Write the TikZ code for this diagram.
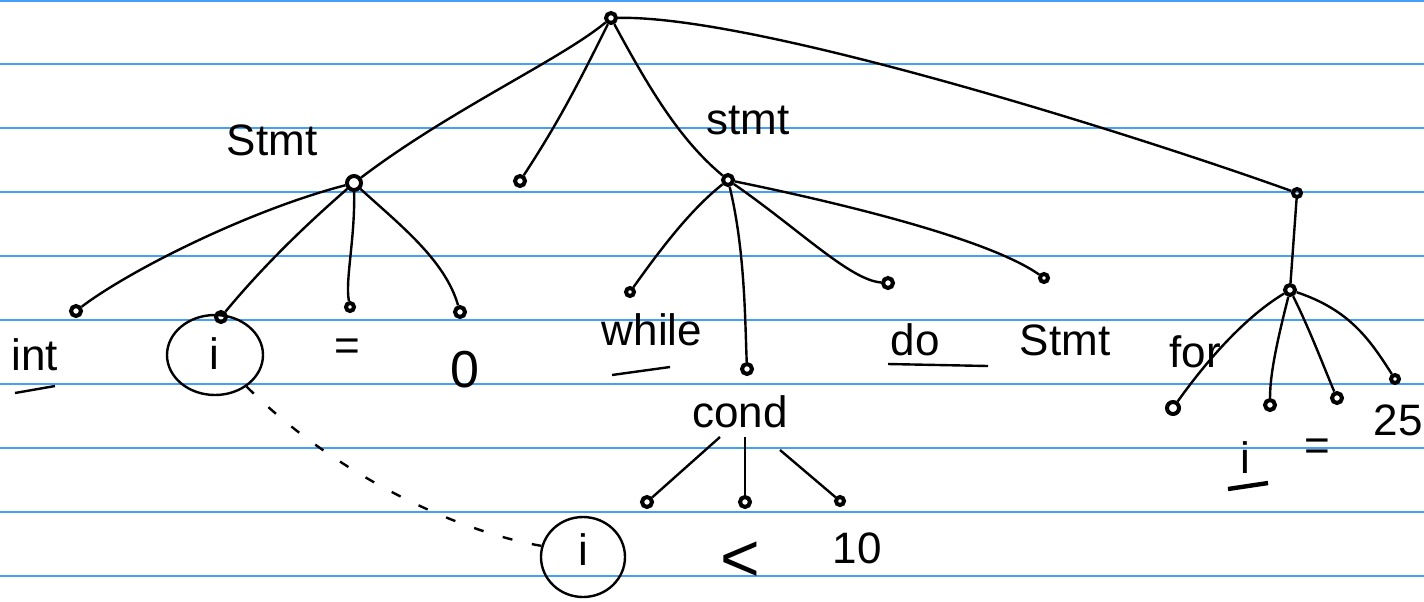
\documentclass[tikz,border=0pt]{standalone}
\usepackage{fontspec}
\setmainfont{Liberation Sans}
\usetikzlibrary{shapes.geometric}
\begin{document}
\begin{tikzpicture}[x=0.5pt,y=-0.5pt,
  dot/.style={circle,draw,line width=2pt,inner sep=0pt,minimum size=5pt},
  lbl/.style={inner sep=1pt,font=\fontsize{22}{26}\selectfont},
  edge/.style={line width=1.2pt},
  ring/.style={draw,line width=1.2pt,ellipse,inner sep=0pt},
  rule/.style={draw={rgb,255:red,70;green,160;blue,250},line width=0.7pt}]
\useasboundingbox (0,0) rectangle (1424,601);
\fill[white] (0,0) rectangle (1424,601);
\foreach \yy in {1,64,128,192,256,320,384,448,512,576}
  \draw[rule] (0,\yy) -- (1424,\yy);
% nodes
\node[dot] (root) at (611,18) {};
\node[dot,minimum size=7pt] (s1) at (354,183) {};
\node[dot] (mid) at (520,181) {};
\node[dot] (s2) at (728,180) {};
\node[dot,minimum size=4pt] (rt) at (1297,193) {};
\node[dot] (nint) at (76,311) {};
\node[dot] (ni) at (221,317) {};
\node[dot,minimum size=4pt] (neq) at (350,307) {};
\node[dot] (nz) at (460,312) {};
\node[dot,minimum size=4pt] (nwh) at (630,292) {};
\node[dot] (ncond) at (747,369) {};
\node[dot] (ndo) at (888,283) {};
\node[dot,minimum size=4pt] (nst) at (1044,278) {};
\node[dot] (nfor) at (1290,290) {};
\node[dot,minimum size=6pt] (f1) at (1173,408) {};
\node[dot] (f2) at (1270,405) {};
\node[dot] (f3) at (1337,398) {};
\node[dot,minimum size=4pt] (f4) at (1395,379) {};
\node[dot] (c1) at (647,502) {};
\node[dot] (c2) at (745,502) {};
\node[dot,minimum size=4pt] (c3) at (840,501) {};
% labels
\node[lbl] (tst1) at (272,140) {Stmt};
\node[lbl] (tst2) at (748,120) {stmt};
\node[lbl] (tint) at (35,355) {int};
\node[lbl] (ti) at (214,354) {i};
\node[ring,minimum width=48pt,minimum height=40pt] (ci) at (215,355) {};
\node[lbl] (teq) at (347,350) {=};
\node[lbl,font=\fontsize{26}{28}\selectfont] (tz) at (465,370) {0};
\node[lbl] (twh) at (652,330) {while};
\node[lbl] (tcond) at (740,412) {cond};
\node[lbl] (tdo) at (915,340) {do};
\node[lbl] (tst3) at (1065,340) {Stmt};
\node[lbl] (tfor) at (1195,352) {for};
\node[lbl] (tfi) at (1245,458) {i};
\node[lbl] (tfeq) at (1317,450) {=};
\node[lbl] (t25) at (1398,420) {25};
\node[lbl] (ti2) at (583,550) {i};
\node[ring,minimum width=42pt,minimum height=40pt] (ci2) at (583,557) {};
\node[lbl,font=\fontsize{34}{36}\selectfont] (tlt) at (740,562) {<};
\node[lbl] (t10) at (857,548) {10};
% underlines
\coordinate (u1a) at (15,393); \coordinate (u1b) at (55,386);
\draw[edge] (u1a) -- (u1b);
\coordinate (u2a) at (612,375); \coordinate (u2b) at (670,367);
\draw[edge] (u2a) -- (u2b);
\coordinate (u3a) at (888,364); \coordinate (u3b) at (988,366);
\draw[edge] (u3a) -- (u3b);
\coordinate (u4a) at (1228,489); \coordinate (u4b) at (1268,483);
\draw[line width=2.2pt] (u4a) -- (u4b);
% edges
\draw[edge] (root) .. controls (560,60) and (450,110) .. (s1);
\draw[edge] (root) .. controls (580,80) and (560,120) .. (mid);
\draw[edge] (root) .. controls (650,90) and (680,140) .. (s2);
\draw[edge] (root) .. controls (760,15) and (1150,140) .. (rt);
\draw[edge] (rt) -- (nfor);
\draw[edge] (s1) .. controls (250,210) and (130,270) .. (nint);
\draw[edge] (s1) .. controls (300,230) and (260,270) .. (ni);
\draw[edge] (s1) .. controls (355,240) and (345,280) .. (neq);
\draw[edge] (s1) .. controls (400,225) and (445,260) .. (nz);
\draw[edge] (s2) .. controls (690,210) and (660,250) .. (nwh);
\draw[edge] (s2) .. controls (745,250) and (745,320) .. (ncond);
\draw[edge] (s2) .. controls (800,230) and (850,280) .. (ndo);
\draw[edge] (s2) .. controls (850,205) and (990,240) .. (nst);
\draw[edge] (nfor) .. controls (1240,320) and (1200,370) .. (f1);
\draw[edge] (nfor) .. controls (1280,330) and (1270,370) .. (f2);
\draw[edge] (nfor) .. controls (1310,330) and (1325,370) .. (f3);
\draw[edge] (nfor) .. controls (1350,310) and (1370,340) .. (f4);
\coordinate (cc1) at (720,437); \coordinate (cc2) at (745,437); \coordinate (cc3) at (780,450);
\draw[edge] (cc1) -- (c1);
\draw[edge] (cc2) -- (c2);
\draw[edge] (cc3) -- (c3);
% dotted connection
\draw[edge,dash pattern=on 5pt off 10pt] (ci.315) .. controls (330,470) and (450,530) .. (ci2.165);
\end{tikzpicture}
\end{document}
